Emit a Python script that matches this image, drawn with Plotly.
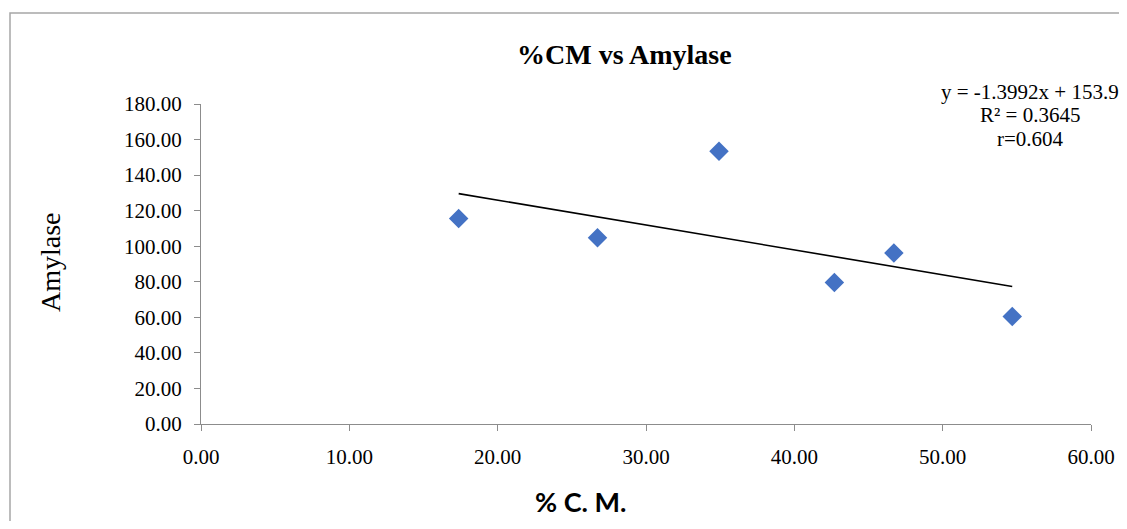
import plotly.graph_objects as go

# Data
cm_percent = [17.37, 26.73, 34.92, 42.70, 46.71, 54.69]
amylase = [115.6, 104.7, 153.4, 79.6, 96.2, 60.5]

# Trendline (as printed on the chart)
slope = -1.3992
intercept = 153.9
eq_lines = ["y = -1.3992x + 153.9", "R² = 0.3645", "r=0.604"]

title_text = "%CM vs Amylase"
x_title = "% C. M."
y_title = "Amylase"

# the page adds an 8px body margin; shrink the figure to compensate
OFF = 8
W, H = 1127 - 2 * OFF, 529 - 2 * OFF
L, T = 201 - OFF, 104 - OFF
R = (W + OFF) - 1091
B = (H + OFF) - 424
PW, PH = W - L - R, H - T - B


def px(x):
    return (x - OFF - L) / PW


def py(y):
    return (H - B - (y - OFF)) / PH


x_min, x_max = min(cm_percent), max(cm_percent)
trend_x = [x_min, x_max]
trend_y = [slope * v + intercept for v in trend_x]

serif = "Liberation Serif, Times New Roman, serif"
axis_color = "#8c8c8c"

fig = go.Figure()
fig.add_trace(go.Scatter(
    x=cm_percent, y=amylase, mode="markers",
    marker=dict(symbol="diamond", size=15, color="#4472C4"),
    showlegend=False,
))
fig.add_trace(go.Scatter(
    x=trend_x, y=trend_y, mode="lines",
    line=dict(color="black", width=1.6),
    showlegend=False,
))

axis_common = dict(
    showline=True, linecolor=axis_color, linewidth=1.2,
    ticks="outside", ticklen=6, tickcolor=axis_color, tickwidth=1.2,
    showgrid=False, zeroline=False, automargin=False,
    tickfont=dict(family=serif, size=21, color="black"),
    tickformat=".2f",
)

fig.update_xaxes(range=[0, 60], dtick=10, tick0=0, ticklabelstandoff=8, **axis_common)
fig.update_yaxes(range=[0, 180], dtick=20, tick0=0, ticklabelstandoff=8, **axis_common)

annotations = [
    dict(text="<b>" + title_text + "</b>", x=px(624), y=py(54), xref="paper", yref="paper",
         xanchor="center", yanchor="middle", showarrow=False,
         font=dict(family=serif, size=28, color="black")),
    dict(text=y_title, x=px(50), y=py(262), xref="paper", yref="paper",
         xanchor="center", yanchor="middle", showarrow=False, textangle=-90,
         font=dict(family=serif, size=28, color="black")),
    dict(text="<b>" + x_title + "</b>", x=px(580), y=py(520), xref="paper", yref="paper",
         xanchor="center", yanchor="bottom", showarrow=False,
         font=dict(family="Lato, Liberation Sans, sans-serif", size=27, color="black")),
]
for line, yc in zip(eq_lines, [92, 115, 139]):
    annotations.append(dict(
        text=line, x=px(1030), y=py(yc), xref="paper", yref="paper",
        xanchor="center", yanchor="middle", showarrow=False,
        font=dict(family=serif, size=21, color="black")))

fig.update_layout(
    width=W, height=H,
    margin=dict(l=L, r=R, t=T, b=B, autoexpand=False),
    paper_bgcolor="white", plot_bgcolor="white",
    annotations=annotations,
    shapes=[dict(type="rect", xref="paper", yref="paper",
                 x0=px(10), x1=px(1127 + 20), y0=py(529 + 20), y1=py(13),
                 line=dict(color="#a6a6a6", width=1.5), layer="below")],
)

fig.write_html("out.html")
